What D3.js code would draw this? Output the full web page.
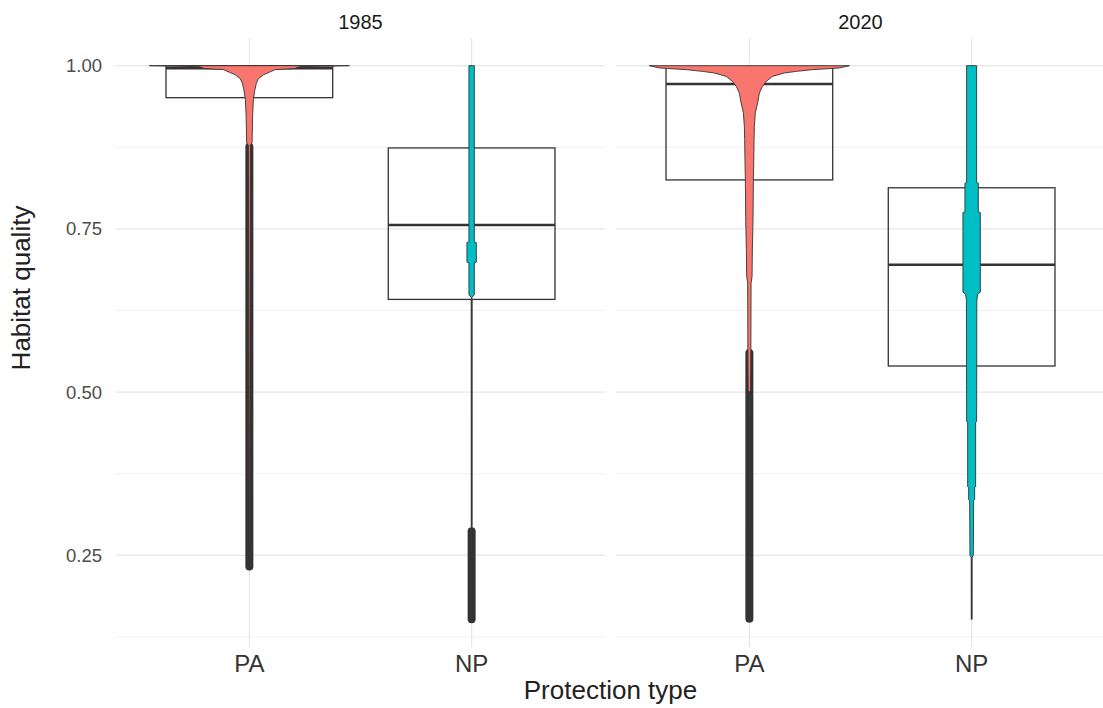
<!DOCTYPE html>
<html>
<head>
<meta charset="utf-8">
<script src="https://cdn.jsdelivr.net/npm/d3@7"></script>
<style>
  body { margin: 0; background: #fff; }
  text { font-family: "Liberation Sans", Arial, sans-serif; }
</style>
</head>
<body>
<div class="container"></div>
<script>
// facets and categories
const years = ['1985', '2020'];
const types = ['PA', 'NP'];

// box stats, order: 1985 PA, 1985 NP, 2020 PA, 2020 NP
const q1 = [0.951, 0.642, 0.825, 0.540];
const med = [0.996, 0.756, 0.972, 0.695];
const q3 = [1.000, 0.874, 0.998, 0.813];
const whiskerLow = [0.878, 0.294, 0.565, 0.152];
const whiskerHigh = [1.0, 1.0, 1.0, 1.0];
// outliers form a continuous run of points, kept as [low, high]
const outlierLow = [0.233, 0.152, 0.153, null];
const outlierHigh = [0.876, 0.287, 0.560, null];

// violin outlines: [habitat quality, relative density]
const violinPA1985 = [[1.0, 1.0], [0.9985, 0.5], [0.9955, 0.45], [0.994, 0.26], [0.990, 0.20], [0.986, 0.14],
  [0.980, 0.09], [0.973, 0.07], [0.963, 0.055], [0.948, 0.04], [0.925, 0.033], [0.882, 0.027],
  [0.878, 0.01], [0.233, 0.002]];
const violinNP1985 = [[1.0, 0.027], [0.730, 0.027], [0.729, 0.047], [0.699, 0.047], [0.698, 0.027],
  [0.649, 0.027], [0.645, 0.003], [0.152, 0.002]];
const violinPA2020 = [[1.0, 1.0], [0.9965, 0.90], [0.9939, 0.63], [0.9913, 0.47], [0.9888, 0.35],
  [0.9836, 0.23], [0.976, 0.17], [0.968, 0.13], [0.958, 0.10], [0.943, 0.083], [0.928, 0.06],
  [0.907, 0.05], [0.887, 0.047], [0.846, 0.043], [0.825, 0.040], [0.769, 0.037], [0.718, 0.03],
  [0.677, 0.027], [0.667, 0.017], [0.564, 0.015], [0.503, 0.012], [0.50, 0.003], [0.153, 0.002]];
const violinNP2020 = [[1.0, 0.05], [0.821, 0.05], [0.820, 0.067], [0.776, 0.067], [0.775, 0.087],
  [0.653, 0.087], [0.650, 0.06], [0.640, 0.052], [0.455, 0.05], [0.454, 0.04], [0.355, 0.04],
  [0.354, 0.03], [0.335, 0.03], [0.334, 0.02], [0.250, 0.017], [0.247, 0.003], [0.152, 0.002]];
const violins = [violinPA1985, violinNP1985, violinPA2020, violinNP2020];

const yTicks = [0.25, 0.50, 0.75, 1.00];
const yMinor = [0.125, 0.375, 0.625, 0.875];

const colors = { PA: '#F8766D', NP: '#00BFC4' };

const width = 1103, height = 708;
const panelTop = 38, panelBottom = 647;
const panels = [[116, 605], [616, 1105]];

const svg = d3.select('.container').append('svg')
  .attr('width', width)
  .attr('height', height);

const allVals = [...outlierLow, ...whiskerLow, ...whiskerHigh].filter(v => v != null);
const lo = d3.min(allVals), hi = d3.max(allVals), pad = (hi - lo) * 0.05;
const y = d3.scaleLinear().domain([lo - pad, hi + pad]).range([panelBottom, panelTop]);

years.forEach((year, i) => {
  const [left, right] = panels[i];
  const x = d3.scalePoint().domain(types).range([left, right]).padding(0.6);
  const step = x.step();
  const w = d3.scaleLinear().domain([0, 1]).range([0, step * 0.45]);
  const g = svg.append('g');

  // grid
  g.selectAll('.minor').data(yMinor).join('line')
    .attr('x1', left).attr('x2', right)
    .attr('y1', d => y(d)).attr('y2', d => y(d))
    .attr('stroke', '#F0F0F0').attr('stroke-width', 1);
  g.selectAll('.major').data(yTicks).join('line')
    .attr('x1', left).attr('x2', right)
    .attr('y1', d => y(d)).attr('y2', d => y(d))
    .attr('stroke', '#E6E6E6').attr('stroke-width', 1.2);
  g.selectAll('.vgrid').data(types).join('line')
    .attr('x1', d => x(d)).attr('x2', d => x(d))
    .attr('y1', panelTop).attr('y2', panelBottom)
    .attr('stroke', '#E6E6E6').attr('stroke-width', 1.2);

  // strip label
  svg.append('text')
    .attr('x', (left + right) / 2).attr('y', 29)
    .attr('text-anchor', 'middle')
    .attr('font-size', '20px').attr('fill', '#1A1A1A')
    .text(year);

  // x tick labels
  g.selectAll('.xlab').data(types).join('text')
    .attr('x', d => x(d)).attr('y', 672)
    .attr('text-anchor', 'middle')
    .attr('font-size', '24px').attr('fill', '#333')
    .text(d => d);

  types.forEach((t, j) => {
    const k = i * 2 + j;
    const cx = x(t);
    const bw = step * 0.75;

    // whiskers
    g.append('line')
      .attr('x1', cx).attr('x2', cx)
      .attr('y1', y(q3[k])).attr('y2', y(whiskerHigh[k]))
      .attr('stroke', '#333').attr('stroke-width', 1.6);
    g.append('line')
      .attr('x1', cx).attr('x2', cx)
      .attr('y1', y(q1[k])).attr('y2', y(whiskerLow[k]))
      .attr('stroke', '#333').attr('stroke-width', 1.6);

    // outliers
    if (outlierLow[k] != null) {
      g.append('line')
        .attr('x1', cx).attr('x2', cx)
        .attr('y1', y(outlierHigh[k])).attr('y2', y(outlierLow[k]))
        .attr('stroke', '#333').attr('stroke-width', 8)
        .attr('stroke-linecap', 'round');
    }

    // box
    g.append('rect')
      .attr('x', cx - bw / 2).attr('width', bw)
      .attr('y', y(q3[k])).attr('height', y(q1[k]) - y(q3[k]))
      .attr('fill', 'none').attr('stroke', '#333').attr('stroke-width', 1.3);
    g.append('line')
      .attr('x1', cx - bw / 2).attr('x2', cx + bw / 2)
      .attr('y1', y(med[k])).attr('y2', y(med[k]))
      .attr('stroke', '#333').attr('stroke-width', 2.6);

    // violin on top
    const area = d3.area()
      .y(d => y(d[0]))
      .x0(d => cx - w(d[1]))
      .x1(d => cx + w(d[1]));
    g.append('path')
      .datum(violins[k])
      .attr('d', area)
      .attr('fill', colors[t])
      .attr('stroke', '#333').attr('stroke-width', 0.9);
  });
});

// y axis labels
svg.selectAll('.ylab').data(yTicks).join('text')
  .attr('x', 102).attr('y', d => y(d))
  .attr('dy', '0.35em')
  .attr('text-anchor', 'end')
  .attr('font-size', '18.5px').attr('fill', '#4D4D4D')
  .text(d => d3.format('.2f')(d));

// axis titles
svg.append('text')
  .attr('x', (panels[0][0] + panels[1][1]) / 2).attr('y', 699)
  .attr('text-anchor', 'middle')
  .attr('font-size', '26px').attr('fill', '#222')
  .text('Protection type');
svg.append('text')
  .attr('transform', 'translate(30,288) rotate(-90)')
  .attr('text-anchor', 'middle')
  .attr('font-size', '26px').attr('fill', '#222')
  .text('Habitat quality');
</script>
</body>
</html>
